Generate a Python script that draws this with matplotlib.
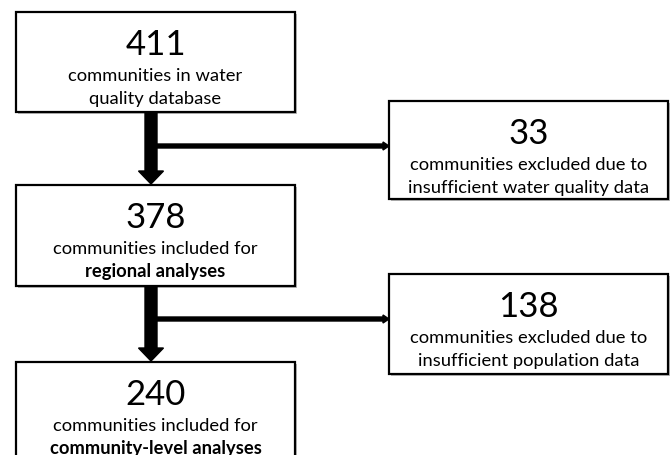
import matplotlib
matplotlib.use("Agg")
import matplotlib.pyplot as plt
from matplotlib.patches import Rectangle, FancyArrow

plt.rcParams['font.family'] = ['Lato', 'DejaVu Sans']

# Flowchart content
counts = ["411", "33", "378", "138", "240"]
line1 = ["communities in water", "communities excluded due to",
         "communities included for", "communities excluded due to",
         "communities included for"]
line2 = ["quality database", "insufficient water quality data",
         "regional analyses", "insufficient population data",
         "community-level analyses"]
line2_bold = [False, False, True, False, True]

# Layout (pixels, y downwards): left, top, width, height
boxes = [(16, 13, 279, 100), (389, 102, 279, 98), (16, 186, 279, 101),
         (389, 275, 279, 100), (16, 363, 279, 110)]

fig = plt.figure(figsize=(6.7, 4.56), dpi=100)
ax = fig.add_axes([0, 0, 1, 1])
ax.set_xlim(0, 670)
ax.set_ylim(456, 0)
ax.axis('off')

for i, (x, y, w, h) in enumerate(boxes):
    # slight drop shadow
    ax.add_patch(Rectangle((x + 2, y + 2), w, h, facecolor='#bbbbbb', edgecolor='none', zorder=1))
    ax.add_patch(Rectangle((x, y), w, h, facecolor='white', edgecolor='black', lw=1.6, zorder=2))
    cx = x + w / 2
    ax.text(cx, y + 32, counts[i], ha='center', va='center', fontsize=25, zorder=3)
    ax.text(cx, y + 63, line1[i], ha='center', va='center', fontsize=13.2, zorder=3)
    ax.text(cx, y + 86, line2[i], ha='center', va='center', fontsize=13.2,
            fontweight='bold' if line2_bold[i] else 'normal', zorder=3)

# thick down arrows and side arrows
for top, bottom, side_y, side_x in [(113, 186, 147, 389), (287, 363, 320, 389)]:
    ax.add_patch(FancyArrow(151, top, 0, bottom - top - 1, width=12, head_width=25,
                            head_length=13, length_includes_head=True,
                            color='black', zorder=2))
    ax.add_patch(FancyArrow(151, side_y, side_x - 151, 0, width=4, head_width=8,
                            head_length=6, length_includes_head=True,
                            color='black', zorder=2))

fig.savefig("out.png", dpi=100)
